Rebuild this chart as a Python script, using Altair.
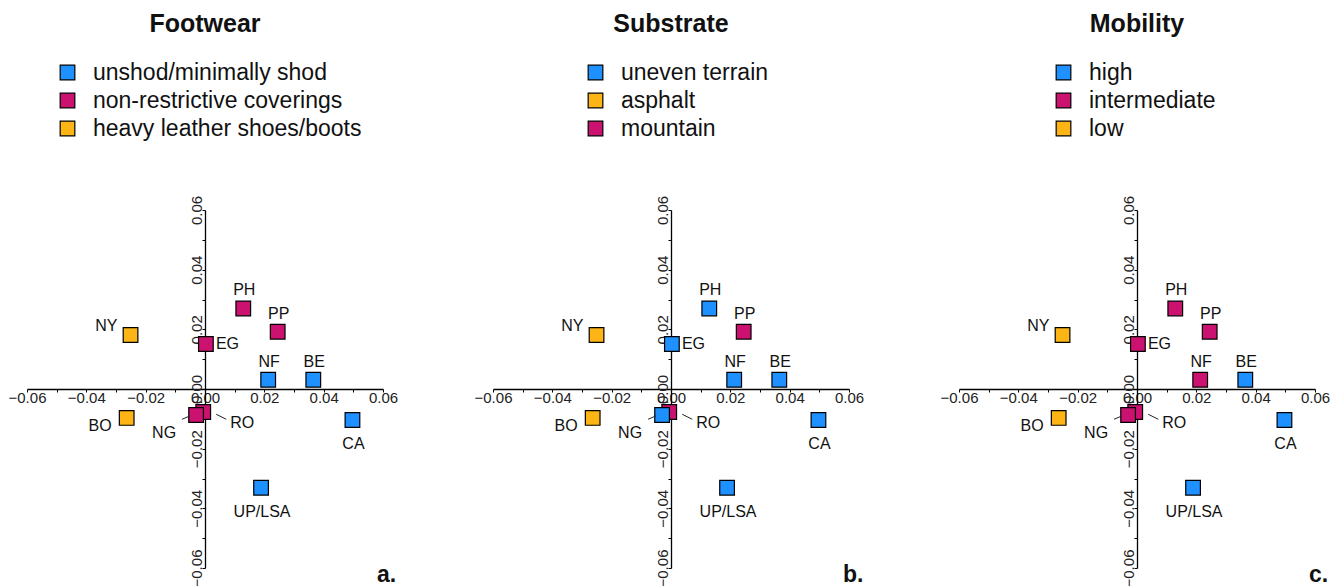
import altair as alt
import pandas as pd

# ---------------- data ----------------
sites = ["NY", "BO", "PH", "PP", "EG", "NF", "BE", "CA", "UP/LSA", "RO", "NG"]
pc1 = [-0.0251, -0.0264, 0.0129, 0.0245, 0.0003, 0.0213, 0.0365, 0.0497, 0.0189, -0.0006, -0.0030]
pc2 = [0.0181, -0.0097, 0.0270, 0.0192, 0.0151, 0.0031, 0.0031, -0.0104, -0.0331, -0.0077, -0.0087]

footwear = ["heavy leather shoes/boots", "heavy leather shoes/boots",
            "non-restrictive coverings", "non-restrictive coverings", "non-restrictive coverings",
            "unshod/minimally shod", "unshod/minimally shod", "unshod/minimally shod",
            "unshod/minimally shod", "non-restrictive coverings", "non-restrictive coverings"]
substrate = ["asphalt", "asphalt", "uneven terrain", "mountain", "uneven terrain",
             "uneven terrain", "uneven terrain", "uneven terrain", "uneven terrain",
             "mountain", "uneven terrain"]
mobility = ["low", "low", "intermediate", "intermediate", "intermediate", "intermediate",
            "high", "high", "high", "intermediate", "intermediate"]

footwear_cats = ["unshod/minimally shod", "non-restrictive coverings", "heavy leather shoes/boots"]
substrate_cats = ["uneven terrain", "asphalt", "mountain"]
mobility_cats = ["high", "intermediate", "low"]

tick_values = [-0.06, -0.05, -0.04, -0.03, -0.02, -0.01, 0.0, 0.01, 0.02, 0.03, 0.04, 0.05, 0.06]

df = pd.DataFrame({"site": sites, "pc1": pc1, "pc2": pc2,
                   "footwear": footwear, "substrate": substrate, "mobility": mobility})

# ---------------- style ----------------
FONT = "Liberation Sans"
BLUE, MAGENTA, YELLOW = "#1E90FF", "#CC1270", "#FDB515"
W, H = 356, 358
SQ = 215

placements = {
    "ul": (["NY"], "right", -13, -9),
    "ll": (["BO"], "right", -15, 8),
    "above": (["PH", "PP", "NF", "BE"], "center", 1, -18),
    "right": (["EG"], "left", 10, 0),
    "below": (["CA", "UP/LSA"], "center", 1, 24),
    "ng": (["NG"], "right", -20, 18),
    "ro": (["RO"], "left", 27, 11),
}

lab_expr = "abs(round(datum.value*100)) % 2 == 0 ? format(datum.value, '.2f') : ''"

common_axis = dict(values=tick_values, labelExpr=lab_expr, title=None, grid=False,
                   domainColor="black", domainWidth=1.3, tickColor="black", tickSize=3,
                   tickWidth=1, labelFontSize=15, labelFont=FONT, labelColor="#222",
                   labelFlush=False, labelOverlap=False, labelBound=False, labelPadding=-2)
x_axis = alt.Axis(orient="bottom", offset=-H / 2, **common_axis)
y_axis = alt.Axis(orient="left", offset=-W / 2, labelAngle=270, labelAlign="center",
                  labelBaseline="bottom", **common_axis)
xs = alt.Scale(domain=[-0.06, 0.06], nice=False, zero=False)
ys = alt.Scale(domain=[-0.06, 0.06], nice=False, zero=False)


def panel(field, title, cats, colors, legend_x, letter):
    base = alt.Chart(df)
    X = alt.X("pc1:Q", scale=xs, axis=x_axis)
    Y = alt.Y("pc2:Q", scale=ys, axis=y_axis)
    pts = base.mark_square(size=SQ, opacity=1, stroke="black", strokeWidth=1.2).encode(
        x=X, y=Y,
        color=alt.Color(f"{field}:N", scale=alt.Scale(domain=cats, range=colors),
                        legend=alt.Legend(title=None, orient="none", legendX=legend_x,
                                          legendY=-149, symbolType="square", symbolSize=SQ,
                                          symbolStrokeColor="black", symbolStrokeWidth=1.2,
                                          symbolOpacity=1, labelFontSize=23, labelFont=FONT,
                                          labelColor="#111", rowPadding=4, labelOffset=14,
                                          labelLimit=400)),
    )
    layers = [pts]
    for _, (names, align, dx, dy) in placements.items():
        layers.append(
            base.transform_filter(alt.FieldOneOfPredicate(field="site", oneOf=names))
            .mark_text(align=align, baseline="middle", dx=dx, dy=dy, fontSize=16,
                       font=FONT, color="#111")
            .encode(x=X, y=Y, text="site:N")
        )
    px_x, px_y = 0.12 / W, 0.12 / H
    leaders = {"NG": (-14, 4.3, -6.3, 1), "RO": (13, 2.3, 23, 7.3)}
    for name, (a1, b1, a2, b2) in leaders.items():
        layers.append(
            base.transform_filter(alt.datum.site == name)
            .transform_calculate(
                lx1=f"datum.pc1 + {a1 * px_x}", ly1=f"datum.pc2 - {b1 * px_y}",
                lx2=f"datum.pc1 + {a2 * px_x}", ly2=f"datum.pc2 - {b2 * px_y}")
            .mark_rule(color="#222", strokeWidth=1)
            .encode(x=alt.X("lx1:Q", scale=xs, axis=x_axis), y=alt.Y("ly1:Q", scale=ys, axis=y_axis),
                    x2="lx2:Q", y2="ly2:Q")
        )
    layers.append(
        alt.Chart(pd.DataFrame({"t": [letter]}))
        .mark_text(align="left", baseline="alphabetic", fontSize=23, fontWeight="bold",
                   font=FONT, color="#111")
        .encode(text="t:N", x=alt.value(350), y=alt.value(372))
    )
    return alt.layer(*layers).properties(
        width=W, height=H,
        title=alt.Title(title, fontSize=25, fontWeight="bold", font=FONT, color="#111",
                        anchor="middle", offset=24),
    ).resolve_scale(color="independent")


pa = panel("footwear", "Footwear", footwear_cats, [BLUE, MAGENTA, YELLOW], 29, "a.")
pb = panel("substrate", "Substrate", substrate_cats, [BLUE, YELLOW, MAGENTA], 91, "b.")
pc = panel("mobility", "Mobility", mobility_cats, [BLUE, MAGENTA, YELLOW], 93, "c.")

chart = (
    alt.hconcat(pa, pb, pc, spacing=76)
    .resolve_scale(color="independent")
    .properties(padding={"left": 0, "top": 4, "right": 0, "bottom": 0})
    .configure_view(stroke=None)
)

chart.save("out.html", embed_options={"renderer": "svg", "actions": False})
